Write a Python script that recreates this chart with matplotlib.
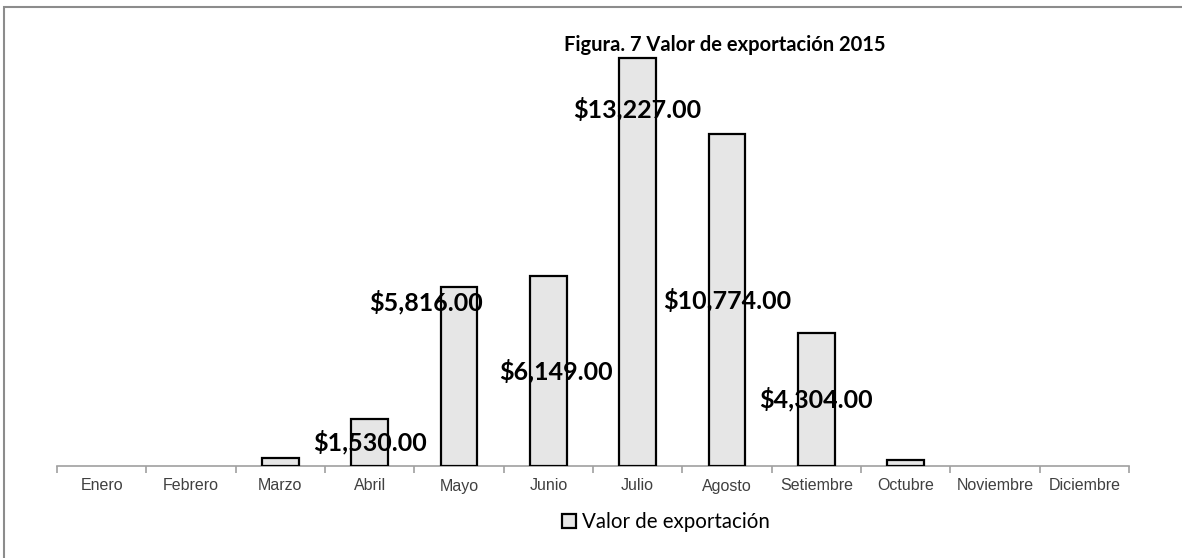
import matplotlib
matplotlib.use("Agg")
import matplotlib.pyplot as plt
from matplotlib.patches import Rectangle

# data
meses = ["Enero", "Febrero", "Marzo", "Abril", "Mayo", "Junio", "Julio",
         "Agosto", "Setiembre", "Octubre", "Noviembre", "Diciembre"]
valores = [0, 0, 250, 1530, 5816, 6149, 13227, 10774, 4304, 200, 0, 0]
mostrar_etiqueta = [False, False, False, True, True, True, True,
                    True, True, False, False, False]

W, H = 1182, 558
fig = plt.figure(figsize=(W / 100, H / 100), dpi=100)

# plot area (pixel positions of the reference)
x0, x1 = 57, 1129
y_base = 466
ymax = 14000
px_per_unit = 408 / 13227
top = y_base - ymax * px_per_unit
ax = fig.add_axes([x0 / W, 1 - y_base / H, (x1 - x0) / W, (y_base - top) / H])

x = list(range(len(meses)))
# empty months have no visible bar
alturas = [v if v > 0 else float("nan") for v in valores]
ax.bar(x, alturas, width=0.41, color="#e6e6e6", edgecolor="black",
       linewidth=1.6, label="Valor de exportación", zorder=3)

ax.set_xlim(-0.5, len(meses) - 0.5)
ax.set_ylim(0, ymax)

bold_fam = ["Lato", "DejaVu Sans"]

# data labels: most sit in the middle of the bar, two were moved by hand
frac_y = {4: 0.915, 6: 0.875}
dx = {4: -0.37, 5: 0.09}
for i, v in enumerate(valores):
    if not mostrar_etiqueta[i]:
        continue
    ax.text(i + dx.get(i, 0), v * frac_y.get(i, 0.5), f"${v:,.2f}",
            ha="center", va="center", zorder=4, family=bold_fam,
            fontsize=18, fontweight="bold")

# axis styling
for s in ["left", "right", "top"]:
    ax.spines[s].set_visible(False)
ax.spines["bottom"].set_color("#a0a0a0")
ax.spines["bottom"].set_linewidth(1.2)
ax.set_yticks([])
ax.set_xticks([i - 0.5 for i in range(len(meses) + 1)], minor=False)
ax.set_xticklabels([])
ax.tick_params(axis="x", which="major", length=5, color="#a0a0a0", width=1.2)
ax.set_xticks(x, minor=True)
ax.set_xticklabels(meses, minor=True,
                   fontfamily=["Liberation Sans", "DejaVu Sans"],
                   fontsize=11.5, color="#404040")
ax.tick_params(axis="x", which="minor", length=0, pad=9)

fig.text(725 / W, 1 - 45 / H, "Figura. 7 Valor de exportación 2015",
         ha="center", va="center", fontsize=14.5, fontweight="bold",
         family=bold_fam)

fig.legend(loc="center", bbox_to_anchor=(666 / W, 1 - 522 / H), frameon=False,
           prop=dict(family=["Lato", "DejaVu Sans"], size=14.8),
           handlelength=0.7, handleheight=0.7, handletextpad=0.3)

# outer chart border (only left and top visible in the crop)
fig.patches.append(Rectangle((4 / W, -0.1), 1.2, 1 - 7 / H + 0.1,
                             transform=fig.transFigure, fill=False,
                             edgecolor="#8c8c8c", linewidth=1.5))

fig.savefig("out.png", dpi=100)
